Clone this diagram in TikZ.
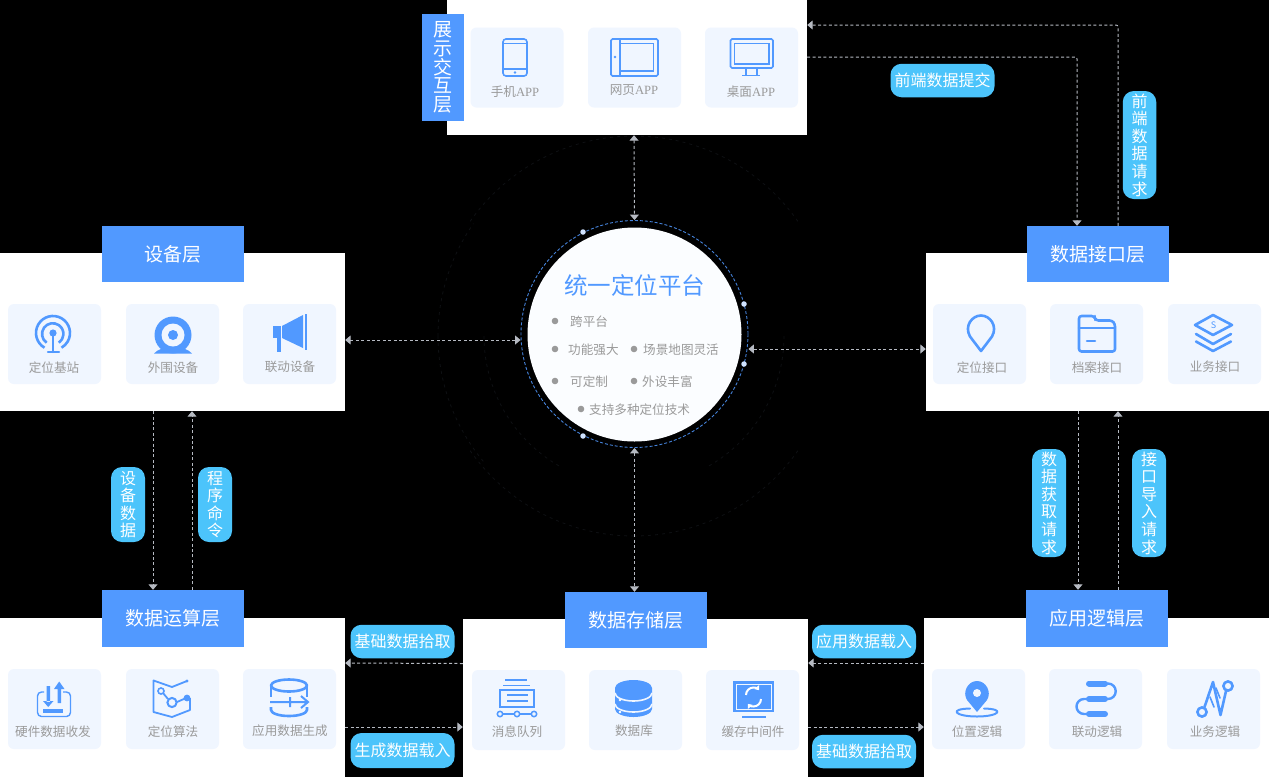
\documentclass[tikz,border=0pt]{standalone}
\usepackage{fontspec}
\setmainfont{Noto Sans CJK SC}
\newfontfamily\latinfont{Liberation Serif}
\usetikzlibrary{arrows.meta}
\definecolor{layerblue}{HTML}{5199FF}
\definecolor{pillblue}{HTML}{4CC4FB}
\definecolor{cardblue}{HTML}{F0F6FF}
\definecolor{linegrey}{HTML}{B6BAC2}
\definecolor{textgrey}{HTML}{9A9A9A}
\definecolor{ringgrey}{HTML}{0E1013}
\tikzset{
  panel/.style={fill=white,draw=none,inner sep=0pt},
  header/.style={fill=layerblue,text=white,inner sep=0pt,minimum width=142pt,minimum height=56pt,font=\fontsize{19}{20}\selectfont},
  card/.style={fill=cardblue,rounded corners=6pt,inner sep=0pt,minimum width=93pt,minimum height=80pt},
  cardtext/.style={text=textgrey,inner sep=0pt,font=\fontsize{12.6}{13}\selectfont},
  pill/.style={fill=pillblue,text=white,rounded corners=11pt,inner sep=0pt,font=\fontsize{16}{17.6}\selectfont,align=center},
  wide pill/.style={pill,minimum width=104pt,minimum height=33.5pt},
  link/.style={draw=linegrey,line width=1pt,dash pattern=on 3pt off 2.4pt},
  both/.style={link,{Triangle[width=9pt,length=5.5pt]}-{Triangle[width=9pt,length=5.5pt]}},
  one/.style={link,-{Triangle[width=9pt,length=5.5pt]}},
  icon/.style={draw=layerblue,line width=1.6pt,fill=none},
  thick icon/.style={draw=layerblue,line width=2.6pt,fill=none,line cap=round,line join=round},
  bullet/.style={circle,fill=textgrey,inner sep=0pt,minimum size=6.6pt},
  coretext/.style={text=textgrey,inner sep=0pt,anchor=west,font=\fontsize{12.6}{13}\selectfont},
  ringdot/.style={circle,fill=cardblue!80!layerblue,inner sep=0pt,minimum size=5.5pt},
  faint/.style={draw=ringgrey,line width=.8pt,dash pattern=on 3pt off 4pt}
}
\begin{document}
\begin{tikzpicture}[x=1pt,y=-1pt]
    \useasboundingbox (0,0) rectangle (1269,777);
    \fill[black] (0,0) rectangle (1269,777);

    \draw[faint] (634,136) arc (-90:-35:200);
    \draw[faint] (634,136) arc (-90:-145:200);
    \draw[faint] (634,536) arc (90:35:200);
    \draw[faint] (634,536) arc (90:145:200);
    \draw[faint] (438,336) arc (180:215:196);
    \draw[faint] (438,336) arc (180:140:196);
    \draw[faint] (784,336) arc (0:60:150);
    \draw[faint] (484,336) arc (180:120:150);

    \node[panel,minimum width=360pt,minimum height=135pt] (topPanel) at (627,67.5) {};
    \node[panel,minimum width=345pt,minimum height=158pt] (devPanel) at (172.5,332) {};
    \node[panel,minimum width=343pt,minimum height=158pt] (apiPanel) at (1097.5,332) {};
    \node[panel,minimum width=345pt,minimum height=159pt] (calcPanel) at (172.5,697.5) {};
    \node[panel,minimum width=345pt,minimum height=158pt] (storePanel) at (635.5,698) {};
    \node[panel,minimum width=345pt,minimum height=159pt] (logicPanel) at (1096.5,697.5) {};

    \node[header,minimum width=42pt,minimum height=107pt,align=center,font=\fontsize{19}{18.6}\selectfont] (topHead) at (443,67.5) {展\\示\\交\\互\\层};
    \node[header] (devHead) at (173,254) {\raisebox{1.5pt}{设备层}};
    \node[header] (apiHead) at (1098,254) {\raisebox{1.5pt}{数据接口层}};
    \node[header,minimum height=57pt] (calcHead) at (173,618.5) {\raisebox{-.5pt}{数据运算层}};
    \node[header] (storeHead) at (636,620) {数据存储层};
    \node[header,minimum height=57pt] (logicHead) at (1097,618.5) {\raisebox{-2.5pt}{应用逻辑层}};

    \node[card] (phoneCard) at (517,67.5) {};
    \node[card] (webCard) at (634.5,67.5) {};
    \node[card] (deskCard) at (751.5,67.5) {};
    \node[card] (baseCard) at (54.5,344) {};
    \node[card] (camCard) at (172.5,344) {};
    \node[card] (hornCard) at (289.5,344) {};
    \node[card] (locCard) at (979.5,344) {};
    \node[card] (fileCard) at (1096.5,344) {};
    \node[card] (bizCard) at (1214.5,344) {};
    \node[card] (hwCard) at (54.5,709) {};
    \node[card] (algoCard) at (172.5,709) {};
    \node[card] (genCard) at (289.5,709) {};
    \node[card] (msgCard) at (518.5,710) {};
    \node[card] (dbCard) at (635.5,710) {};
    \node[card] (cacheCard) at (752.5,710) {};
    \node[card] (posCard) at (978.5,709) {};
    \node[card] (linkCard) at (1095.5,709) {};
    \node[card] (flowCard) at (1213.5,709) {};

    \node[cardtext] (phoneText) at (515,91.5) {手机{\latinfont APP}};
    \node[cardtext] (webText) at (634,90.5) {网页{\latinfont APP}};
    \node[cardtext] (deskText) at (751,91.5) {桌面{\latinfont APP}};
    \node[cardtext] (baseText) at (54,367.5) {定位基站};
    \node[cardtext] (camText) at (173,367.5) {外围设备};
    \node[cardtext] (hornText) at (290,366.5) {联动设备};
    \node[cardtext] (locText) at (982,367.5) {定位接口};
    \node[cardtext] (fileText) at (1097,367.5) {档案接口};
    \node[cardtext] (bizText) at (1215,366.5) {业务接口};
    \node[cardtext] (hwText) at (53,731.5) {硬件数据收发};
    \node[cardtext] (algoText) at (173,731.5) {定位算法};
    \node[cardtext] (genText) at (290,731) {应用数据生成};
    \node[cardtext] (msgText) at (517,732) {消息队列};
    \node[cardtext] (dbText) at (634,731) {数据库};
    \node[cardtext] (cacheText) at (753,732) {缓存中间件};
    \node[cardtext] (posText) at (977,732) {位置逻辑};
    \node[cardtext] (linkText) at (1097,732) {联动逻辑};
    \node[cardtext] (flowText) at (1215,732) {业务逻辑};

    \draw[icon,rounded corners=3pt] (503,39) rectangle (527,76);
    \draw[icon,line width=1.2pt] (503,43.5) -- (527,43.5) (503,69) -- (527,69);
    \fill[layerblue] (515,72.5) circle (1.4);
    \draw[icon,rounded corners=1.5pt] (611,39) rectangle (658,76);
    \draw[icon] (620,39) -- (620,76) (620,43.5) -- (653.5,43.5) -- (653.5,71) -- (620,71);
    \fill[layerblue] (615,57) circle (1.4);
    \draw[icon,rounded corners=1.5pt] (730.5,39) rectangle (773,68);
    \draw[icon] (734.5,43.5) rectangle (769,64);
    \draw[icon] (746,68) -- (746,75) (757,68) -- (757,75);
    \draw[icon] (742,75.5) -- (760,75.5);

    \draw[thick icon,line cap=butt] (44.5,347.7) arc (120:420:17);
    \draw[thick icon,line cap=butt] (46.6,342.7) arc (125:415:10.7);
    \fill[layerblue] (53,333) circle (3.6);
    \draw[thick icon,line width=2.2pt] (53,335) -- (53,352) (48,352) -- (59,352);

    \fill[layerblue] (173,335) circle (18.5);
    \fill[cardblue] (173,335) circle (11.5);
    \fill[layerblue] (173,335) circle (5);
    \fill[layerblue] (154,353.5) .. controls (158,349) and (165,347) .. (173,347) .. controls (181,347) and (188,349) .. (192,353.5) -- cycle;

    \fill[layerblue] (273,326) rectangle (281,338);
    \fill[layerblue] (277,338) rectangle (281,352);
    \fill[layerblue] (282,326) -- (303,315) -- (303,348) -- (282,338) -- cycle;
    \fill[layerblue] (305,314) rectangle (307,350);

    \draw[thick icon] (981,351) -- (970,336.5) .. controls (964,326) and (972,315.5) .. (981,315.5) .. controls (990,315.5) and (998,326) .. (992,336.5) -- cycle;

    \draw[thick icon,rounded corners=2.5pt] (1079,328) -- (1079,316) -- (1094,316) -- (1096,320.5) -- (1112,320.5) -- (1115,324) -- (1115,351.5) -- (1079,351.5) -- cycle;
    \draw[thick icon] (1079,328) -- (1115,328) (1087,341) -- (1095,341) (1095,316) -- (1095,320);

    \draw[thick icon] (1195,325) -- (1213,315) -- (1232,325) -- (1213,335) -- cycle;
    \draw[thick icon] (1196,334) -- (1213,344) -- (1231,334);
    \draw[thick icon] (1196,341.5) -- (1213,351) -- (1231,341.5);
    \node[inner sep=0pt,text=layerblue,font=\fontsize{9}{9}\selectfont] (bizMark) at (1213.5,325) {S};

    \draw[icon,line width=1.4pt,rounded corners=4pt] (44,692) -- (37.5,692) -- (37.5,716.5) -- (70.5,716.5) -- (70.5,692) -- (63,692);
    \fill[layerblue] (46.5,686) rectangle (50,702) (43,701) -- (53.5,701) -- (48.2,707) -- cycle;
    \fill[layerblue] (57.5,688) rectangle (61,703) (54,689) -- (64.5,689) -- (59.2,681.5) -- cycle;
    \fill[layerblue] (43,708.5) rectangle (63,713);

    \draw[thick icon,line width=1.8pt,line cap=butt] (187,681) -- (172,687) -- (153.5,680.5) -- (153.5,712) -- (172,717) -- (190,710) -- (190,698);
    \draw[icon,line width=1.8pt] (163,693) -- (168,699) (177,702) -- (185,698.5);
    \draw[icon,line width=1.6pt] (161,691) circle (3);
    \draw[thick icon,line width=2pt] (172,702.5) circle (4.6);
    \fill[layerblue] (187,698) circle (3.4);
    \fill[layerblue] (187,681) circle (1.6);

    \draw[thick icon,line cap=butt] (289,685.5) ellipse (18 and 6);
    \draw[thick icon,line cap=butt] (271,685.5) -- (271,697) (307,685.5) -- (307,697);
    \draw[thick icon,line cap=butt] (271,707) -- (271,710) arc (180:0:18 and 6) -- (307,707);
    \draw[icon,line width=2pt] (270,702) -- (307,702) (290,697) -- (290,707) (301,696) -- (308,702) -- (301,708);

    \draw[icon,line width=1.5pt] (505,680) -- (527,680) (503,685.5) -- (530,685.5);
    \draw[thick icon,line cap=butt,line join=miter] (500,690) rectangle (534,707);
    \draw[icon,line width=1.5pt] (507,695) -- (528,695) (507,701) -- (528,701);
    \draw[icon,line width=2pt] (503,714) -- (514,714) (520,714) -- (531,714);
    \draw[icon,line width=1.5pt] (500,714) circle (2.7) (517,714) circle (2.7) (534,714) circle (2.7);

    \fill[layerblue] (615,688) -- (615,709) arc (180:0:18.5 and 8) -- (652,688) arc (360:180:18.5 and 8);
    \draw[draw=cardblue,line width=1.6pt] (615,693) arc (180:0:18.5 and 8) (615,704) arc (180:0:18.5 and 8);
    \fill[white] (620,700) circle (1.3) (620,712) circle (1.3);

    \fill[layerblue] (733,681) rectangle (774,712);
    \draw[cardblue,line width=.7pt] (736,684) rectangle (771,709);
    \draw[white,line width=2pt,-{Triangle[width=6pt,length=4pt]}] (746,695) arc (180:320:7.5);
    \draw[white,line width=2pt,-{Triangle[width=6pt,length=4pt]}] (761,699) arc (0:140:7.5);
    \fill[layerblue] (742,716) rectangle (766,718);

    \fill[layerblue] (977,712) -- (967,700) .. controls (962,692) and (968,681) .. (977,681) .. controls (986,681) and (992,692) .. (987,700) -- cycle;
    \fill[cardblue] (977,693) circle (4);
    \draw[thick icon,line width=2pt] (970,708.5) .. controls (948,709) and (955,716.5) .. (977,716.5) .. controls (999,716.5) and (1006,709) .. (984,708.5);

    \draw[thick icon,line width=6pt] (1089,683.5) -- (1105,683.5) (1089,699) -- (1105,699) (1089,714) -- (1105,714);
    \draw[thick icon,line width=2.4pt] (1105,683.5) -- (1108,683.5) arc (-90:90:7.75) -- (1105,699);
    \draw[thick icon,line width=2.4pt] (1089,699) -- (1084,699) arc (270:90:7.5) -- (1089,714);

    \draw[thick icon] (1228,686) circle (4.6) (1202,712) circle (4.6);
    \draw[thick icon] (1204.5,707) -- (1213,682) -- (1220.5,715) -- (1226,691);
    \draw[thick icon,line width=1.6pt] (1210,697) -- (1214,707) (1216,688) -- (1220,698);

    \node[circle,draw=layerblue!85!black,line width=.9pt,dash pattern=on 3pt off 2pt,inner sep=0pt,minimum size=227pt] (ring) at (634.5,334) {};
    \node[circle,fill=cardblue!25!white,inner sep=0pt,minimum size=214pt] (core) at (634.5,334.5) {};
    \node[ringdot] (dotA) at (583,232) {};
    \node[ringdot] (dotB) at (744,304) {};
    \node[ringdot] (dotC) at (744,364) {};
    \node[ringdot] (dotD) at (583,436) {};
    \node[inner sep=0pt,text=layerblue,font=\fontsize{23.5}{24}\selectfont] (coreTitle) at (634.5,286) {统一定位平台};
    \node[bullet] (b1) at (555,321) {};
    \node[coretext] (t1) at (570,322) {跨平台};
    \node[bullet] (b2) at (555,349) {};
    \node[coretext] (t2) at (568,350) {功能强大};
    \node[bullet] (b3) at (634,349) {};
    \node[coretext] (t3) at (643,350) {场景地图灵活};
    \node[bullet] (b4) at (555,381) {};
    \node[coretext] (t4) at (570,382) {可定制};
    \node[bullet] (b5) at (634,381) {};
    \node[coretext] (t5) at (642,382) {外设丰富};
    \node[bullet] (b6) at (581,409) {};
    \node[coretext] (t6) at (589,410) {支持多种定位技术};

    \coordinate (upTurn) at (1118,25);
    \coordinate (downTurn) at (1077,57);

    \draw[both] ([xshift=7pt]topPanel.south) -- (ring.north);
    \draw[both] (ring.south) -- ([xshift=-1.5pt]storeHead.north);
    \draw[both] ([yshift=-8pt]devPanel.east) -- ([yshift=-6pt]ring.west);
    \draw[both] ([yshift=-15pt]ring.east) -- ([yshift=-17pt]apiPanel.west);
    \draw[one] ([xshift=-19.5pt]devPanel.south) -- ([xshift=-20pt]calcHead.north);
    \draw[one] ([xshift=19pt]calcHead.north) -- ([xshift=19.5pt]devPanel.south);
    \draw[one] ([xshift=-19.5pt]apiPanel.south) -- ([xshift=-19pt]logicHead.north);
    \draw[one] ([xshift=21pt]logicHead.north) -- ([xshift=20.5pt]apiPanel.south);
    \draw[one] ([yshift=34.5pt]storePanel.west) -- ([yshift=34.5pt]calcPanel.east);
    \draw[one] ([yshift=-29.5pt]calcPanel.east) -- ([yshift=-29pt]storePanel.west);
    \draw[one] ([yshift=34.5pt]logicPanel.west) -- ([yshift=35pt]storePanel.east);
    \draw[one] ([yshift=-29pt]storePanel.east) -- ([yshift=-29.5pt]logicPanel.west);
    \draw[one,rounded corners=2pt] ([xshift=20pt]apiHead.north) -- (upTurn) -- ([yshift=42.5pt]topPanel.east);
    \draw[one,rounded corners=2pt] ([yshift=10.5pt]topPanel.east) -- (downTurn) -- ([xshift=-21pt]apiHead.north);

    \node[wide pill] (submitPill) at (942.5,80.5) {前端数据提交};
    \node[pill,minimum width=33.5pt,minimum height=108pt] (requestPill) at (1139.5,145) {前\\端\\数\\据\\请\\求};
    \node[pill,minimum width=34pt,minimum height=75pt] (devdataPill) at (128,504.5) {设\\备\\数\\据};
    \node[pill,minimum width=34pt,minimum height=75pt] (commandPill) at (215,504.5) {程\\序\\命\\令};
    \node[pill,minimum width=34pt,minimum height=108pt] (fetchPill) at (1049,503) {数\\据\\获\\取\\请\\求};
    \node[pill,minimum width=34pt,minimum height=108pt] (importPill) at (1149,503) {接\\口\\导\\入\\请\\求};
    \node[wide pill] (basePillA) at (402.5,641.5) {基础数据拾取};
    \node[wide pill,minimum height=35pt] (loadPillA) at (402.5,750.5) {生成数据载入};
    \node[wide pill] (loadPillB) at (864,641.5) {应用数据载入};
    \node[wide pill] (basePillB) at (864,751.5) {基础数据拾取};
\end{tikzpicture}
\end{document}
